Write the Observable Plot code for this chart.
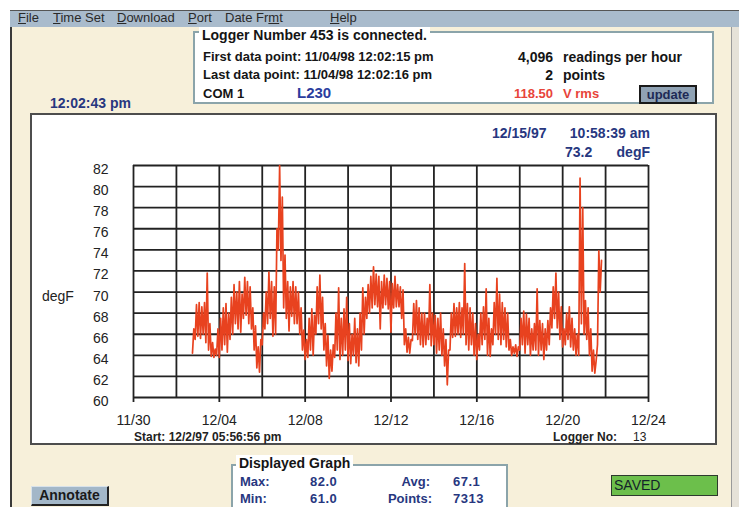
<!DOCTYPE html>
<html>
<head>
<meta charset="utf-8">
<script src="https://cdn.jsdelivr.net/npm/d3@7"></script>
<script src="https://cdn.jsdelivr.net/npm/@observablehq/plot@0.6"></script>
<style>
  html, body { margin: 0; padding: 0; }
  body { width: 739px; height: 507px; position: relative; overflow: hidden; background: #fff;
         font-family: "Liberation Sans", Arial, sans-serif; }
  .abs { position: absolute; white-space: nowrap; }
  #menubar { left: 10px; top: 10px; width: 729px; height: 17px; background: #a9bbcc;
             border-top: 1px solid #555; box-sizing: border-box; }
  .menu { font-size: 13px; line-height: 16px; color: #2a2a2a; top: 10px; }
  #panel { left: 10px; top: 27px; width: 722px; height: 480px; background: #f7f0da;
           border-left: 2px solid #3a3a3a; box-sizing: border-box; }
  #rightedge { left: 731px; top: 27px; width: 8px; height: 480px; background: #e6e2d8; border-left: 1px solid #9a9a9a; box-sizing: border-box; }
  .groupbox { background: #fff; border: 2px solid #8ba4aa; box-sizing: border-box; }
  .gtitle { background: #fff; padding: 0 3px; font-size: 14px; line-height: 16px; font-weight: bold; color: #151515; }
  .row { font-size: 13px; line-height: 16px; font-weight: bold; color: #151515; }
  .small { line-height: 14px; }
  .navy { color: #27377f; }
  .red { color: #e8443a; }
  #chartbox { left: 30px; top: 113px; width: 687px; height: 332px; background: #fff;
              border: 2px solid #4d4d4d; box-sizing: border-box; }
  #chart { left: 30px; top: 113px; width: 687px; height: 332px; }
  .btn { background: #a3b7c8; border: 1px solid #d8e2ea; border-right: 2px solid #222; border-bottom: 2px solid #222;
         box-sizing: border-box; font-weight: bold; color: #1a1a1a; text-align: center; }
</style>
</head>
<body>
<div class="abs" id="panel"></div>
<div class="abs" id="rightedge"></div>
<div class="abs" id="menubar"></div>
<div class="abs menu" style="left:18px"><u>F</u>ile</div>
<div class="abs menu" style="left:53px"><u>T</u>ime Set</div>
<div class="abs menu" style="left:117px"><u>D</u>ownload</div>
<div class="abs menu" style="left:188px"><u>P</u>ort</div>
<div class="abs menu" style="left:225px">Date Fr<u>m</u>t</div>
<div class="abs menu" style="left:330px"><u>H</u>elp</div>

<!-- header info group box -->
<div class="abs groupbox" style="left:193px; top:31px; width:521px; height:73px;"></div>
<div class="abs gtitle" style="left:199px; top:27px;">Logger Number 453 is connected.</div>
<div class="abs row" style="left:203px; top:49px;">First data point: 11/04/98 12:02:15 pm</div>
<div class="abs row" style="left:203px; top:67px;">Last data point: 11/04/98 12:02:16 pm</div>
<div class="abs row" style="left:203px; top:86px;">COM 1</div>
<div class="abs row" style="left:297px; top:85px; font-size:15px; color:#2b3d9e;">L230</div>
<div class="abs row" style="right:186px; top:49px; font-size:14px;">4,096</div>
<div class="abs row" style="left:563px; top:49px; font-size:14px;">readings per hour</div>
<div class="abs row" style="right:186px; top:67px; font-size:14px;">2</div>
<div class="abs row" style="left:563px; top:67px; font-size:14px;">points</div>
<div class="abs row red" style="right:186px; top:86px;">118.50</div>
<div class="abs row red" style="left:563px; top:86px;">V rms</div>
<div class="abs btn" style="left:639px; top:85px; width:58px; height:19px; font-size:13px; line-height:16px; background:#8fa2b4; border:2px solid #1a1a1a; color:#1d2a55;">update</div>

<div class="abs row navy" style="left:50px; top:95px; font-size:14px;">12:02:43 pm</div>

<!-- chart -->
<div class="abs" id="chartbox"></div>
<div class="abs" id="chart"></div>
<div class="abs row navy" style="left:492px; top:125px; font-size:14px;">12/15/97</div>
<div class="abs row navy" style="right:89px; top:125px; font-size:14px;">10:58:39 am</div>
<div class="abs row navy" style="left:565px; top:144px; font-size:14px;">73.2</div>
<div class="abs row navy" style="right:89px; top:144px; font-size:14px;">degF</div>
<div class="abs" style="left:42px; top:288px; font-size:14px; line-height:16px; color:#222;">degF</div>
<div class="abs row" style="left:134px; top:429px; font-size:12px; color:#222;">Start: 12/2/97 05:56:56 pm</div>
<div class="abs row" style="left:553px; top:429px; font-size:12px; color:#222;">Logger No:</div>
<div class="abs row" style="left:633px; top:429px; font-size:12px; color:#222; font-weight:normal;">13</div>

<!-- bottom -->
<div class="abs groupbox" style="left:231px; top:464px; width:277px; height:60px;"></div>
<div class="abs gtitle" style="left:236px; top:455px;">Displayed Graph</div>
<div class="abs row small navy" style="left:240px; top:475px;">Max:</div>
<div class="abs row small navy" style="left:310px; top:475px; letter-spacing:0.5px;">82.0</div>
<div class="abs row small navy" style="left:240px; top:492px;">Min:</div>
<div class="abs row small navy" style="left:310px; top:492px; letter-spacing:0.5px;">61.0</div>
<div class="abs row small navy" style="right:309px; top:475px;">Avg:</div>
<div class="abs row small navy" style="left:453px; top:475px; letter-spacing:0.5px;">67.1</div>
<div class="abs row small navy" style="right:307px; top:492px;">Points:</div>
<div class="abs row small navy" style="left:453px; top:492px; letter-spacing:0.5px;">7313</div>
<div class="abs btn" style="left:31px; top:486px; width:78px; height:20px; font-size:14px; line-height:17px;">Annotate</div>
<div class="abs" style="left:611px; top:475px; width:107px; height:21px; background:#6cbf4b; border:1px solid #2d3a2d; box-sizing:border-box; font-size:14px; line-height:18px; padding-left:2px; color:#14232a;">SAVED</div>

<script>
// ---- data ----
// logger start time (Start: 12/2/97 05:56:56 pm); each entry below covers 3 hours
const startTime = Date.UTC(1997, 11, 2, 17, 56, 56);
const bucketHours = 3;
// per 3-hour block: low and high reading (degF)
const lowValues = [
  64.2, 65.5, 65.8, 65.6, 66.0, 65.2, 64.5, 63.9, 63.8, 64.0,
  63.8, 64.5, 65.0, 64.3, 65.5, 66.0, 67.0, 66.5, 66.2, 67.5,
  67.8, 67.0, 66.5, 64.5, 62.8, 62.4, 65.0, 66.5, 67.0, 67.5,
  65.8, 66.0, 74.0, 73.0, 68.5, 67.5, 66.3, 67.7, 67.0, 67.0,
  66.0, 64.5, 63.6, 63.8, 64.5, 64.0, 66.0, 67.0, 66.5, 64.5,
  63.0, 61.8, 62.5, 63.8, 64.5, 63.6, 64.0, 64.5, 63.5, 63.2,
  64.0, 63.3, 63.0, 64.5, 66.0, 67.5, 68.0, 68.5, 68.8, 68.6,
  66.5, 68.5, 68.8, 68.4, 66.2, 68.5, 68.6, 68.6, 67.5, 65.0,
  64.3, 64.2, 65.4, 66.0, 65.5, 65.0, 64.8, 65.0, 65.5, 64.9,
  65.0, 64.2, 64.5, 64.0, 63.0, 61.2, 64.5, 65.7, 65.8, 66.0,
  65.7, 66.0, 65.0, 64.5, 65.0, 64.0, 63.6, 64.5, 65.0, 65.5,
  64.0, 63.9, 65.0, 66.0, 65.5, 65.0, 65.5, 64.8, 64.5, 64.0,
  64.2, 63.9, 64.5, 65.0, 64.2, 65.0, 64.0, 64.5, 64.5, 64.0,
  64.5, 63.6, 64.5, 65.0, 66.6, 67.5, 66.6, 65.5, 64.8, 65.0,
  65.5, 64.8, 64.5, 64.0, 64.0, 67.0, 66.0, 65.5, 64.0, 62.5,
  62.3, 65.0, 70.0
];
const highValues = [
  66.5, 68.8, 69.0, 68.6, 69.0, 71.8, 67.0, 65.2, 64.6, 66.5,
  67.5, 68.5, 68.9, 68.0, 69.5, 70.7, 70.0, 71.0, 69.8, 71.4,
  71.0, 70.5, 68.5, 66.8, 64.8, 65.5, 68.0, 70.0, 71.9, 71.0,
  70.5, 76.0, 82.0, 79.0, 73.5, 71.0, 70.5, 71.0, 70.5, 70.0,
  68.5, 66.4, 65.5, 67.5, 68.4, 67.8, 70.5, 71.6, 69.5, 67.0,
  65.9, 64.5, 65.0, 68.0, 70.4, 67.5, 68.4, 69.5, 67.0, 66.0,
  67.5, 66.5, 68.0, 70.4, 69.5, 70.7, 71.5, 72.4, 71.7, 71.5,
  71.0, 71.6, 71.3, 71.0, 70.8, 71.5, 70.7, 70.5, 70.2, 66.5,
  65.7, 65.5, 68.9, 69.2, 68.5, 68.0, 68.0, 67.5, 70.7, 68.0,
  67.8, 67.5, 68.0, 66.5, 65.5, 64.5, 68.0, 68.9, 68.5, 69.0,
  68.5, 72.7, 68.9, 68.5, 68.0, 67.0, 66.0, 68.0, 68.6, 70.3,
  67.5, 66.5, 69.0, 71.3, 69.8, 69.0, 68.5, 68.0, 65.5, 64.8,
  65.0, 64.8, 67.5, 68.2, 67.9, 67.5, 66.5, 67.0, 70.3, 67.3,
  67.0, 66.5, 67.3, 68.5, 70.5, 71.8, 70.0, 68.6, 66.5, 68.0,
  68.6, 67.5, 66.5, 66.0, 80.8, 78.0, 69.2, 68.5, 66.5, 64.5,
  63.5, 73.9, 73.0
];
const yTicks = [60, 62, 64, 66, 68, 70, 72, 74, 76, 78, 80, 82];
const xGridDays = ["1997-11-30", "1997-12-02", "1997-12-04", "1997-12-06", "1997-12-08", "1997-12-10",
                   "1997-12-12", "1997-12-14", "1997-12-16", "1997-12-18", "1997-12-20", "1997-12-22", "1997-12-24"];
const xTickDays = ["1997-11-30", "1997-12-04", "1997-12-08", "1997-12-12", "1997-12-16", "1997-12-20", "1997-12-24"];
const xTickLabels = ["11/30", "12/04", "12/08", "12/12", "12/16", "12/20", "12/24"];

// ---- build table ----
const H = 3600 * 1000;
const points = [];
lowValues.forEach((lo, i) => {
  points.push({t: new Date(startTime + i * bucketHours * H), v: lo});
  points.push({t: new Date(startTime + (i * bucketHours + bucketHours / 2) * H), v: highValues[i]});
});
const gridDates = xGridDays.map(s => new Date(s + "T00:00:00Z"));
const tickDates = xTickDays.map(s => new Date(s + "T00:00:00Z"));
const labelMap = new Map(tickDates.map((d, i) => [+d, xTickLabels[i]]));

const chart = Plot.plot({
  width: 687,
  height: 332,
  marginLeft: 103,
  marginRight: 69,
  marginTop: 52,
  marginBottom: 48,
  style: {background: "transparent", fontFamily: "'Liberation Sans', Arial, sans-serif", color: "#222"},
  x: {type: "utc", domain: [gridDates[0], gridDates[gridDates.length - 1]], axis: null},
  y: {domain: [60, 82], axis: null},
  marks: [
    Plot.ruleY(yTicks, {stroke: "#222", strokeWidth: 1.8}),
    Plot.ruleX(gridDates, {y1: 60, y2: 82, stroke: "#222", strokeWidth: 1.8}),
    Plot.line(points, {x: "t", y: "v", stroke: "#e8421f", strokeWidth: 1.7}),
    Plot.axisY(yTicks, {label: null, tickSize: 0, tickPadding: 25, dy: 4, fontSize: 14, color: "#222"}),
    Plot.axisX(tickDates, {label: null, tickSize: 5, tickPadding: 13, strokeWidth: 1.8, fontSize: 14, color: "#222",
                           tickFormat: d => labelMap.get(+d)})
  ]
});
document.getElementById("chart").appendChild(chart);
</script>
</body>
</html>
